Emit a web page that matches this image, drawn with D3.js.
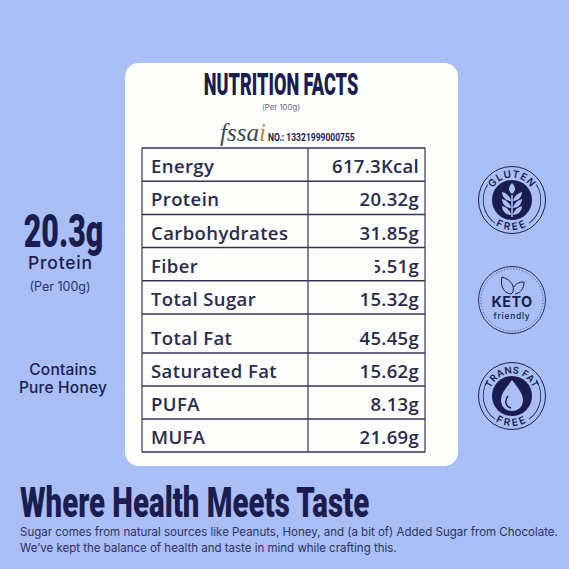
<!DOCTYPE html>
<html>
<head>
<meta charset="utf-8">
<script src="https://cdn.jsdelivr.net/npm/d3@7"></script>
<style>
html, body { margin: 0; padding: 0; background: #a9bff6; }
svg { display: block; }
</style>
</head>
<body>
<svg id="chart" width="569" height="569"></svg>
<script>
const nutrients = ["Energy", "Protein", "Carbohydrates", "Fiber", "Total Sugar", "Total Fat", "Saturated Fat", "PUFA", "MUFA"];
const amounts = ["617.3Kcal", "20.32g", "31.85g", "5.51g", "15.32g", "45.45g", "15.62g", "8.13g", "21.69g"];
const headline = "Where Health Meets Taste";
const notes = [
    "Sugar comes from natural sources like Peanuts, Honey, and (a bit of) Added Sugar from Chocolate.",
    "We\u2019ve kept the balance of health and taste in mind while crafting this."
];

const navy = "#1b1d50", ink = "#2a2c4e", bg = "#a9bff6";
const svg = d3.select("#chart");

svg.append("rect").attr("width", 569).attr("height", 569).attr("fill", bg);

// white card
svg.append("rect")
    .attr("x", 125).attr("y", 63).attr("width", 333).attr("height", 403)
    .attr("rx", 14).attr("fill", "#fdfdfb");

// no condensed display font here, so squeeze a bold one horizontally
function narrow(x, y, str, size, sx, anchor, fill, weight){
    return svg.append("text")
        .attr("transform", `translate(${x},${y}) scale(${sx},1)`)
        .attr("text-anchor", anchor)
        .attr("font-family", "Roboto")
        .attr("font-weight", weight || 900)
        .attr("font-size", size)
        .attr("fill", fill)
        .text(str);
}

function label(x, y, str, size, weight, anchor, fill){
    return svg.append("text")
        .attr("x", x).attr("y", y)
        .attr("text-anchor", anchor)
        .attr("font-family", "Inter")
        .attr("font-weight", weight)
        .attr("font-size", size)
        .attr("fill", fill)
        .text(str);
}

// header of the card
narrow(281, 95, "NUTRITION FACTS", 31, 0.585, "middle", navy);
label(281, 110, "(Per 100g)", 7.8, 400, "middle", "#666a7c");

const logo = svg.append("text")
    .attr("x", 220).attr("y", 141)
    .attr("font-family", "Liberation Serif")
    .attr("font-style", "italic")
    .attr("font-size", 25)
    .attr("fill", "#3f4a55");
logo.append("tspan").text("fssa");
logo.append("tspan").attr("fill", "#c9833f").text("i");
narrow(268, 141, "NO.: 13321999000755", 11.5, 0.74, "start", navy, 700);

// table: rows are even except the taller Total Fat row
const rowY = d3.scaleLinear().domain([0, 5, 6, 9]).range([148, 314, 353, 452]);
const colX = d3.scaleOrdinal().domain(["left", "mid", "right"]).range([142, 308, 425]);

const rows = svg.append("g").selectAll("g")
    .data(nutrients)
    .join("g");

// text sits on the bottom of its row, not in the middle
rows.append("text")
    .attr("x", colX("left") + 9)
    .attr("y", (d, i) => rowY(i + 1) - 8)
    .attr("font-family", "Open Sans")
    .attr("font-weight", 600)
    .attr("font-size", 18.5)
    .attr("letter-spacing", 0.4)
    .attr("fill", ink)
    .text(d => d);

rows.append("text")
    .attr("x", colX("right") - 6)
    .attr("y", (d, i) => rowY(i + 1) - 8)
    .attr("text-anchor", "end")
    .attr("font-family", "Open Sans")
    .attr("font-weight", 600)
    .attr("font-size", 18.5)
    .attr("letter-spacing", 0.3)
    .attr("fill", ink)
    .text((d, i) => amounts[i]);

// first digit of the fiber value is half erased in the picture
svg.append("rect")
    .attr("x", 367).attr("y", rowY(3) + 6).attr("width", 8).attr("height", 22)
    .attr("fill", "#fdfdfb");

svg.append("g").selectAll("line")
    .data(d3.range(nutrients.length + 1))
    .join("line")
    .attr("x1", colX("left")).attr("x2", colX("right"))
    .attr("y1", d => rowY(d)).attr("y2", d => rowY(d))
    .attr("stroke", "#33365a").attr("stroke-width", 1.5);

svg.append("g").selectAll("line")
    .data(colX.domain())
    .join("line")
    .attr("x1", d => colX(d)).attr("x2", d => colX(d))
    .attr("y1", rowY(0)).attr("y2", rowY(9))
    .attr("stroke", "#33365a").attr("stroke-width", 1.2);

// left column
narrow(63.5, 247, "20.3g", 46, 0.66, "middle", navy);
label(60.5, 269, "Protein", 17.5, 500, "middle", navy).attr("letter-spacing", 0.8);
label(60, 291, "(Per 100g)", 12.5, 400, "middle", "#2d3163");
label(63, 375, "Contains", 15.5, 500, "middle", navy).attr("letter-spacing", 0.2);
label(63, 393, "Pure Honey", 15.5, 500, "middle", navy).attr("letter-spacing", 0.2);

// footer
narrow(20, 516.5, headline, 42, 0.70, "start", navy);
svg.append("g").selectAll("text")
    .data(notes)
    .join("text")
    .attr("x", 20)
    .attr("y", (d, i) => 535.5 + i * 16.5)
    .attr("font-family", "Inter")
    .attr("font-size", 11.5)
    .attr("fill", "#2d3163")
    .text(d => d);

// badges
const arc = d3.arc();

function ringText(g, id, str, r, top, size, spacing){
    const d = top
        ? `M ${-r},0 A ${r},${r} 0 0 1 ${r},0`
        : `M ${-r},0 A ${r},${r} 0 0 0 ${r},0`;
    g.append("path").attr("id", id).attr("d", d).attr("fill", "none");
    g.append("text")
        .attr("font-family", "Inter")
        .attr("font-weight", 600)
        .attr("font-size", size)
        .attr("letter-spacing", spacing)
        .attr("fill", navy)
        .attr("text-anchor", "middle")
        .append("textPath")
        .attr("href", "#" + id)
        .attr("startOffset", "50%")
        .text(str);
}

function sealRings(g){
    g.append("circle").attr("r", 33.5).attr("fill", "none").attr("stroke", navy).attr("stroke-width", 1);
    // inner ring only shows at the sides, between the top and bottom words
    [[-Math.PI * 0.8, -Math.PI * 0.32], [Math.PI * 0.32, Math.PI * 0.8]].forEach(a => {
        g.append("path")
            .attr("d", arc({innerRadius: 28.4, outerRadius: 29.2, startAngle: a[0], endAngle: a[1]}))
            .attr("fill", navy);
    });
}

// gluten free
const gluten = svg.append("g").attr("transform", "translate(512,200)");
sealRings(gluten);
gluten.append("circle").attr("r", 20).attr("fill", navy);
ringText(gluten, "glutenTop", "GLUTEN", 22.5, true, 10, 0.8);
ringText(gluten, "glutenBottom", "FREE", 30, false, 10, 2.5);
gluten.append("line").attr("y1", -5).attr("y2", 17).attr("stroke", bg).attr("stroke-width", 1.6);
gluten.append("path").attr("d", "M0,-17 C4,-13 4,-9 0,-6 C-4,-9 -4,-13 0,-17 Z").attr("fill", bg);
[-4, 3, 10].forEach(y => {
    [-1, 1].forEach(s => {
        gluten.append("path")
            .attr("d", `M${s},${y + 5} C${s * 2},${y} ${s * 6},${y - 3} ${s * 10},${y - 4} C${s * 10},${y + 1} ${s * 6},${y + 5} ${s},${y + 5} Z`)
            .attr("fill", bg);
    });
});

// keto friendly
const keto = svg.append("g").attr("transform", "translate(512,300)");
keto.append("circle").attr("r", 33.5).attr("fill", "none").attr("stroke", navy).attr("stroke-width", 0.9);
keto.append("circle").attr("r", 31).attr("fill", "none").attr("stroke", navy).attr("stroke-width", 0.7).attr("stroke-dasharray", "1 2");
keto.append("path")
    .attr("d", "M-1,-6 C-9,-7 -12,-15 -10,-23 C-4,-21 3,-17 1,-8 Z M3,-6 C9,-7 12,-12 12,-18 C7,-18 3,-16 2,-13")
    .attr("fill", "none").attr("stroke", navy).attr("stroke-width", 1);
keto.append("text").attr("y", 7).attr("text-anchor", "middle").attr("font-family", "Inter").attr("font-weight", 700).attr("font-size", 14.5).attr("letter-spacing", 0.4).attr("fill", navy).text("KETO");
keto.append("text").attr("y", 19).attr("text-anchor", "middle").attr("font-family", "Inter").attr("font-weight", 500).attr("font-size", 8.5).attr("letter-spacing", 0.7).attr("fill", navy).text("friendly");

// trans fat free
const trans = svg.append("g").attr("transform", "translate(512,396)");
sealRings(trans);
trans.append("circle").attr("r", 20).attr("fill", navy);
ringText(trans, "transTop", "TRANS FAT", 22.5, true, 9.5, 0.3);
ringText(trans, "transBottom", "FREE", 30, false, 10, 2.5);
trans.append("path")
    .attr("d", "M0,-16 C5,-9 11,-3 11,4 C11,11 6,15 0,15 C-6,15 -11,11 -11,4 C-11,-3 -5,-9 0,-16 Z")
    .attr("fill", bg);
trans.append("path")
    .attr("d", "M-4,0 C-8,5 -6,11 -1,12")
    .attr("fill", "none").attr("stroke", navy).attr("stroke-width", 1.4);
</script>
</body>
</html>
